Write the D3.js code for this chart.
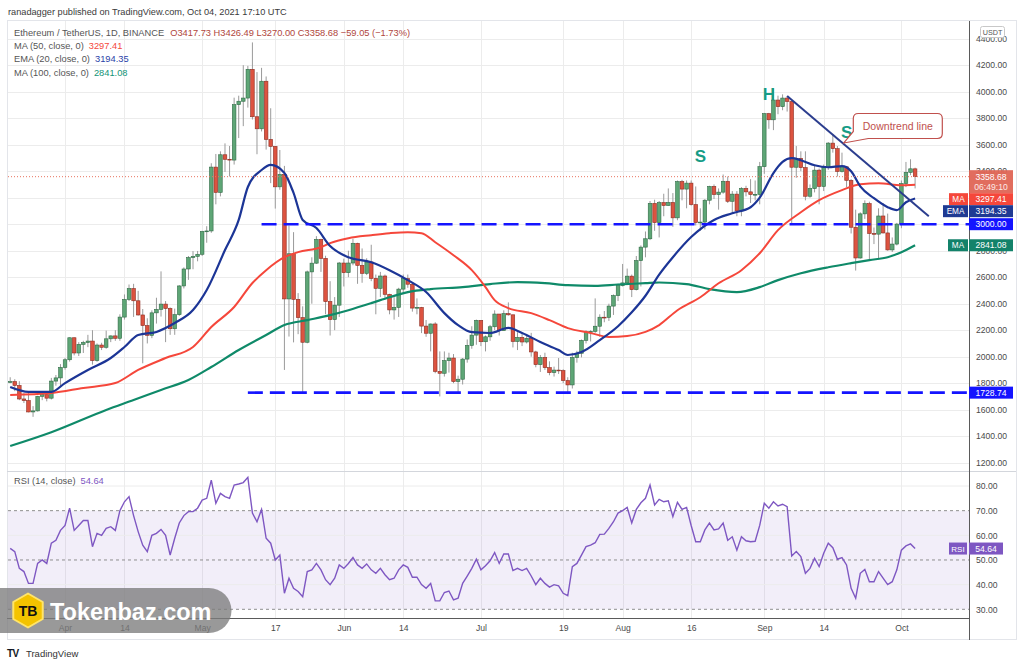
<!DOCTYPE html>
<html><head><meta charset="utf-8"><title>ETH/USDT 1D</title>
<script src="https://cdn.jsdelivr.net/npm/d3@7"></script>
<style>
body{margin:0;background:#fff;}
svg{display:block;font-family:"Liberation Sans",Arial,sans-serif;}
</style></head><body>
<svg id="chart" width="1024" height="667"></svg>
<script>
// ---------------- DATA ----------------
const startDate = "2021-03-20";
const endDate = "2021-10-04";

const openP = [1806,1812,1783,1681,1669,1583,1591,1701,1714,1687,1816,1840,
1919,1977,2143,2028,2093,2107,2118,1971,2088,2071,2135,2157,2139,2299,2432,2514,2422,2315,2235,2161,2331,2357,2397,2364,2211,2317,2534,2662,2748,2757,
2773,2945,2949,3431,3240,3524,3490,3484,3902,3928,3952,4169,3811,3720,4079,3640,3587,3282,3375,2436,2777,2433,2295,2109,2640,2706,2885,2742,2416,2280,2389,
2707,2634,2707,2856,2689,2629,2715,2591,2516,2609,2471,2353,2372,2510,2589,2547,2367,2372,2231,2177,2247,1889,1875,1970,1990,1812,1830,1982,2085,2163,
2274,2113,2150,2226,2322,2197,2325,2316,2115,2146,2111,2139,2036,1940,1994,1917,1880,1899,1895,1820,1787,1994,2026,2123,2188,2191,2230,2298,2297,2382,2461,
2536,2557,2608,2506,2725,2827,2890,3157,3012,3163,3141,3164,3048,3322,3265,3310,3148,3012,3016,3181,3285,3224,3242,3324,3173,3227,3101,3270,3244,3224,3225,
3434,3834,3788,3937,3887,3952,3926,3430,3497,3427,3211,3269,3408,3285,3429,3612,3570,3398,3433,3331,2977,2745,3078,3155,2930,2925,3062,2934,2806,2850,
3001,3307,3391,3417.73];
const highP = [1845,1830,1815,1725,1740,1627,1705,1735,1718,1840,1862,1944,
1991,2145,2145,2110,2120,2165,2200,2100,2105,2197,2160,2200,2320,2470,2545,2550,2497,2360,2290,2350,2445,2644,2420,2372,2363,2540,2674,2760,2797,2798,
2950,2985,3460,3530,3550,3610,3590,3955,3970,4200,4195,4372,4148,4180,4115,3875,3590,3560,3440,2990,2940,2480,2380,2650,2750,2910,2890,2762,2570,2450,2715,
2740,2800,2890,2860,2817,2743,2845,2620,2640,2620,2475,2450,2520,2620,2620,2560,2440,2376,2277,2250,2260,2040,2040,2030,2020,1857,1990,2130,2230,2280,
2275,2160,2240,2350,2322,2350,2410,2318,2185,2180,2160,2180,2045,2013,2030,1965,1925,1990,1905,1845,2030,2045,2130,2200,2200,2440,2320,2345,2400,2470,2550,
2700,2665,2620,2760,2840,2945,3175,3185,3175,3230,3270,3235,3330,3335,3330,3330,3285,3120,3190,3290,3300,3270,3375,3360,3250,3250,3280,3290,3340,3330,3470,
3840,3840,4025,3970,3980,3965,3930,3590,3550,3550,3300,3440,3420,3450,3620,3680,3590,3540,3440,3340,3110,3090,3180,3170,2975,3120,3160,3080,2900,3010,
3330,3470,3490,3426.49];
const lowP = [1800,1740,1672,1650,1580,1546,1586,1672,1663,1677,1781,1770,
1902,1963,2010,2005,2028,2072,1940,1962,2050,2060,2110,2120,2120,2280,2420,2300,2310,1950,2100,2140,2250,2303,2110,2165,2165,2308,2515,2580,2660,2720,
2760,2860,2935,3150,3210,3395,3360,3450,3650,3740,3880,3790,3528,3700,3563,3310,3118,3260,1900,2152,2108,2170,1728,2101,2400,2700,2640,2320,2160,2200,2300,
2530,2600,2690,2550,2558,2616,2570,2320,2450,2440,2320,2280,2300,2480,2520,2340,2320,2178,2150,2040,1875,1700,1850,1880,1800,1720,1790,1955,2060,2090,
2080,2040,2120,2200,2160,2195,2310,2070,2050,2080,2100,2000,1920,1885,1900,1860,1850,1870,1800,1718,1760,1955,1995,2100,2115,2180,2150,2260,2270,2315,2420,
2530,2540,2450,2500,2530,2750,2880,2950,2900,3060,3140,2980,3030,3180,3120,3140,2990,2950,2960,3150,3190,3110,3230,3160,3080,3060,3060,3210,3160,3180,3150,
3380,3720,3710,3830,3860,3850,3000,3350,3400,3180,3200,3240,3150,3250,3410,3540,3360,3390,3280,2930,2650,2740,3040,2730,2850,2740,2930,2800,2790,2840,
2970,3280,3370,3270];
const closeP = [1812,1783,1681,1669,1583,1591,1701,1714,1687,1816,1840,1919,
1977,2143,2028,2093,2107,2118,1971,2088,2071,2135,2157,2139,2299,2432,2514,2422,2315,2235,2161,2331,2357,2397,2364,2211,2317,2534,2662,2748,2757,2773,
2945,2949,3431,3240,3524,3490,3484,3902,3928,3952,4169,3811,3720,4079,3640,3587,3282,3375,2436,2777,2433,2295,2109,2640,2706,2885,2742,2416,2280,2389,2707,
2634,2707,2856,2689,2629,2715,2591,2516,2609,2471,2353,2372,2510,2589,2547,2367,2372,2231,2177,2247,1889,1875,1970,1990,1812,1830,1982,2085,2163,2274,
2113,2150,2226,2322,2197,2325,2316,2115,2146,2111,2139,2036,1940,1994,1917,1880,1899,1895,1820,1787,1994,2026,2123,2188,2191,2230,2298,2297,2382,2461,2536,
2557,2608,2506,2725,2827,2890,3157,3012,3163,3141,3164,3048,3322,3265,3310,3148,3012,3016,3181,3285,3224,3242,3324,3173,3227,3101,3270,3244,3224,3225,3434,
3834,3788,3937,3887,3952,3926,3430,3497,3427,3211,3269,3408,3285,3429,3612,3570,3398,3433,3331,2977,2745,3078,3155,2930,2925,3062,2934,2806,2850,3001,
3307,3391,3418,3358.68];

const rsi14 = [54.7,53.4,46.6,45.3,40.5,40.5,48.6,50,48.6,56.8,58,62,64,71,62,64,66,66,55.4,60.8,
60,62.8,63.5,62,70,73.6,75.7,68,61.5,56,53.4,60,60.8,62.4,60,52,58.8,65,68,69.6,
69.6,71,74.3,75,82.4,73,77,75.7,75,80.4,80.8,81.4,83.5,69,65.5,70.5,58.8,56.8,50,52,
36.5,42.6,38.5,37.2,35.1,45.3,46,48.6,46,42,40,42.6,48,46.6,48.6,51,48,46.6,48.4,46,
44.6,46.6,44,42,42.6,46,48,47,43,43,40,38.5,40.5,33.4,33.4,36.8,37.4,33.8,34.5,40.5,
43.5,46.6,50.3,46,47.7,49.7,53,48.6,52.4,52.4,45.7,46.6,45.7,46.6,43.5,40,42.6,40.5,39,40,
39.5,36.5,35.5,47.3,48.6,52,55.4,56,57,60.4,60.5,62.8,65.5,69,70,71.3,65,70.5,73.2,75,
80.4,72.3,74.6,73.6,74,67.6,73.4,70.5,71.3,64,57.4,57.4,62.2,65,62.2,62.6,65,58,59.4,54,
59.4,57.8,57.4,57.6,64,73,71,73.6,71.9,72.6,71.6,51.6,53.4,51.4,44.6,46.6,50.7,47.3,52.7,56.8,
55,50.3,51,48,38.5,34.5,44.6,46.2,41.2,41.2,45.3,42.6,40,41.2,46,54,55.7,56.5,54.64];

const ema20 = [["2021-03-20",1771],["2021-03-24",1734],["2021-03-29",1734],["2021-04-01",1801],["2021-04-06",1900],
["2021-04-11",1990],["2021-04-14",2073],["2021-04-17",2164],["2021-04-21",2187],["2021-04-25",2254],["2021-04-29",2352],
["2021-05-02",2503],["2021-05-06",2805],["2021-05-09",3032],["2021-05-11",3281],["2021-05-14",3409],["2021-05-16",3447],
["2021-05-19",3387],["2021-05-21",3236],["2021-05-23",3032],["2021-05-26",2971],["2021-05-29",2835],["2021-06-02",2750],
["2021-06-07",2713],["2021-06-11",2653],["2021-06-15",2578],["2021-06-19",2488],["2021-06-23",2329],["2021-06-26",2238],
["2021-06-29",2185],["2021-07-03",2179],["2021-07-07",2217],["2021-07-10",2179],["2021-07-14",2111],["2021-07-18",2050],
["2021-07-20",2013],["2021-07-23",2035],["2021-07-27",2125],["2021-07-31",2230],["2021-08-03",2335],["2021-08-06",2460],
["2021-08-09",2620],["2021-08-12",2751],["2021-08-16",2903],["2021-08-21",3032],["2021-08-25",3083],["2021-08-29",3128],
["2021-08-31",3200],["2021-09-03",3386],["2021-09-05",3470],["2021-09-07",3498],["2021-09-09",3483],["2021-09-12",3445],
["2021-09-15",3430],["2021-09-18",3438],["2021-09-20",3400],["2021-09-22",3285],["2021-09-25",3196],["2021-09-28",3128],
["2021-09-30",3106],["2021-10-02",3166],["2021-10-04",3194.35]];

const ma50 = [["2021-03-20",1711],["2021-03-29",1726],["2021-04-05",1764],["2021-04-12",1801],["2021-04-17",1900],
["2021-04-23",1990],["2021-04-29",2073],["2021-05-03",2224],["2021-05-08",2375],["2021-05-12",2556],["2021-05-15",2653],
["2021-05-19",2751],["2021-05-22",2789],["2021-05-27",2826],["2021-05-29",2857],["2021-06-02",2894],["2021-06-07",2917],
["2021-06-11",2932],["2021-06-15",2940],["2021-06-18",2932],["2021-06-21",2864],["2021-06-25",2766],["2021-06-29",2653],
["2021-07-02",2525],["2021-07-04",2427],["2021-07-07",2367],["2021-07-12",2329],["2021-07-16",2276],["2021-07-20",2216],
["2021-07-25",2179],["2021-07-29",2149],["2021-08-02",2156],["2021-08-06",2187],["2021-08-09",2239],["2021-08-13",2351],
["2021-08-18",2449],["2021-08-22",2554],["2021-08-27",2653],["2021-08-31",2781],["2021-09-04",2955],["2021-09-09",3090],
["2021-09-13",3181],["2021-09-18",3257],["2021-09-22",3302],["2021-09-26",3309],["2021-10-01",3294],["2021-10-04",3297.41]];

const ma100 = [["2021-03-20",1326],["2021-03-29",1430],["2021-04-10",1598],["2021-04-16",1673],["2021-04-22",1749],
["2021-04-28",1824],["2021-05-03",1922],["2021-05-09",2051],["2021-05-15",2164],["2021-05-19",2239],["2021-05-24",2276],
["2021-05-29",2314],["2021-06-02",2351],["2021-06-07",2404],["2021-06-11",2449],["2021-06-15",2487],["2021-06-20",2510],
["2021-06-27",2525],["2021-07-03",2548],["2021-07-09",2563],["2021-07-15",2555],["2021-07-20",2540],["2021-07-26",2535],
["2021-07-31",2545],["2021-08-06",2555],["2021-08-09",2560],["2021-08-15",2548],["2021-08-20",2510],["2021-08-26",2487],
["2021-08-31",2525],["2021-09-04",2578],["2021-09-09",2630],["2021-09-15",2675],["2021-09-20",2706],["2021-09-24",2729],
["2021-09-28",2751],["2021-10-01",2789],["2021-10-04",2841.08]];

const xTickDates = ["2021-04-01","2021-04-14","2021-05-01","2021-05-17","2021-06-01","2021-06-14","2021-07-01",
"2021-07-19","2021-08-01","2021-08-16","2021-09-01","2021-09-14","2021-10-01"];
const xTickLabels = ["Apr","14","May","17","Jun","14","Jul","19","Aug","16","Sep","14","Oct"];
const yTicks = [1200,1400,1600,1800,2000,2200,2400,2600,2800,3000,3200,3400,3600,3800,4000,4200,4400];
const rsiTicks = [30,40,50,60,70,80];
const rsiDashed = [30,50,70];

const levels = [{value:3000, from:"2021-05-14"}, {value:1728.74, from:"2021-05-11"}];
const trendLine = [["2021-09-06",3967],["2021-10-07",3060]];
const patternLabels = [{text:"S", date:"2021-08-18", price:3469},{text:"H", date:"2021-09-02", price:3937},{text:"S", date:"2021-09-19", price:3651}];
const callout = {text:"Downtrend line", date:"2021-09-18", price:3613};

const headerText = "ranadagger published on TradingView.com, Oct 04, 2021 17:10 UTC";
const symbolText = "Ethereum / TetherUS, 1D, BINANCE";
const ohlcText = "O3417.73 H3426.49 L3270.00 C3358.68 −59.05 (−1.73%)";
const legendRows = [["MA (50, close, 0)","3297.41"],["EMA (20, close, 0)","3194.35"],["MA (100, close, 0)","2841.08"]];
const countdown = "06:49:10";

// ---------------- CHART ----------------
const svg = d3.select("#chart");
const L = 8, R = 969, T = 21, MB = 471, RT = 472, RB = 618;
const parse = d3.utcParse("%Y-%m-%d");
const dates = d3.utcDay.range(parse(startDate), d3.utcDay.offset(parse(endDate), 1));
const x = d3.scaleUtc().domain([parse(startDate), parse(endDate)]).range([10.2, 915.1]);
const y = d3.scaleLinear().domain([1200, 4200]).range([462.7, 65.2]);
const yr = d3.scaleLinear().domain([30, 80]).range([609.3, 486]);

const GREEN = "#5ea676", GREEN_B = "#2f6a45", RED = "#dc5340", RED_B = "#8d2c20";
const C_MA50 = "#f5473b", C_EMA = "#1c3596", C_MA100 = "#0f8a69", C_LEVEL = "#1414ff", C_RSI = "#7e57c2";
const GRID = "#ececec", AXTXT = "#4a4a4a";

const defs = svg.append("defs");
defs.append("clipPath").attr("id","clipMain").append("rect").attr("x",L).attr("y",T).attr("width",R-L).attr("height",MB-T);
defs.append("clipPath").attr("id","clipRsi").append("rect").attr("x",L).attr("y",RT).attr("width",R-L).attr("height",RB-RT);

// header
svg.append("text").attr("x",8).attr("y",15).attr("font-size",9.2).attr("fill","#3a3a3a").text(headerText);
svg.append("rect").attr("x",7.5).attr("y",20.5).attr("width",1009).attr("height",619).attr("fill","none").attr("stroke","#e3e5ea");

// grids
const tickDates = xTickDates.map(parse);
svg.append("g").selectAll("line").data(tickDates).join("line")
  .attr("x1",d=>Math.round(x(d))+0.5).attr("x2",d=>Math.round(x(d))+0.5).attr("y1",T).attr("y2",RB)
  .attr("stroke",GRID);
svg.append("g").selectAll("line").data(yTicks).join("line")
  .attr("x1",L).attr("x2",R).attr("y1",d=>Math.round(y(d))+0.5).attr("y2",d=>Math.round(y(d))+0.5).attr("stroke",GRID);

// RSI pane background & grid
svg.append("rect").attr("x",L).attr("y",yr(70)).attr("width",R-L).attr("height",yr(30)-yr(70))
  .attr("fill",C_RSI).attr("fill-opacity",0.1);
svg.append("g").selectAll("line").data(rsiTicks.filter(v=>!rsiDashed.includes(v))).join("line")
  .attr("x1",L).attr("x2",R).attr("y1",d=>yr(d)).attr("y2",d=>yr(d)).attr("stroke",GRID);
svg.append("g").selectAll("line").data(rsiDashed).join("line")
  .attr("x1",L).attr("x2",R).attr("y1",d=>yr(d)).attr("y2",d=>yr(d))
  .attr("stroke","#8f8f8f").attr("stroke-dasharray","3,3");

// separators
svg.append("line").attr("x1",7).attr("x2",1016).attr("y1",471.5).attr("y2",471.5).attr("stroke","#d3d6dc").attr("stroke-width",1.2);
svg.append("line").attr("x1",7).attr("x2",R).attr("y1",618.5).attr("y2",618.5).attr("stroke","#5a5a5a");
svg.append("line").attr("x1",969.5).attr("x2",969.5).attr("y1",21).attr("y2",640).attr("stroke","#5a5a5a");

// main pane
const main = svg.append("g").attr("clip-path","url(#clipMain)");
const candles = dates.map((d,i)=>({d, o:openP[i], h:highP[i], l:lowP[i], c:closeP[i]}));
main.append("g").selectAll("line").data(candles).join("line")
  .attr("x1",d=>x(d.d)).attr("x2",d=>x(d.d)).attr("y1",d=>y(d.h)).attr("y2",d=>y(d.l))
  .attr("stroke","#9a9a9a").attr("stroke-width",1);
main.append("g").selectAll("rect").data(candles).join("rect")
  .attr("x",d=>x(d.d)-1.8).attr("width",3.6)
  .attr("y",d=>y(Math.max(d.o,d.c))).attr("height",d=>Math.max(0.8,Math.abs(y(d.o)-y(d.c))))
  .attr("fill",d=>d.c>=d.o?GREEN:RED).attr("stroke",d=>d.c>=d.o?GREEN_B:RED_B).attr("stroke-width",0.6);

const maLine = d3.line().x(p=>x(parse(p[0]))).y(p=>y(p[1])).curve(d3.curveMonotoneX);
main.append("path").attr("d",maLine(ma100)).attr("fill","none").attr("stroke",C_MA100).attr("stroke-width",2.2);
main.append("path").attr("d",maLine(ma50)).attr("fill","none").attr("stroke",C_MA50).attr("stroke-width",2);
main.append("path").attr("d",maLine(ema20)).attr("fill","none").attr("stroke",C_EMA).attr("stroke-width",2.2);

// horizontal levels
main.append("g").selectAll("line").data(levels).join("line")
  .attr("x1",d=>x(parse(d.from))).attr("x2",R).attr("y1",d=>y(d.value)).attr("y2",d=>y(d.value))
  .attr("stroke",C_LEVEL).attr("stroke-width",2.6).attr("stroke-dasharray","15,7");

// current price dotted line
const lastClose = closeP[closeP.length-1];
main.append("line").attr("x1",L).attr("x2",R).attr("y1",y(lastClose)).attr("y2",y(lastClose))
  .attr("stroke","#e8735f").attr("stroke-dasharray","1,2");

// downtrend line
main.append("path").attr("d",d3.line().x(p=>x(parse(p[0]))).y(p=>y(p[1]))(trendLine))
  .attr("fill","none").attr("stroke","#2b3d8e").attr("stroke-width",2);

// pattern labels
svg.append("g").selectAll("text").data(patternLabels).join("text")
  .attr("x",d=>x(parse(d.date))).attr("y",d=>y(d.price)).attr("text-anchor","middle")
  .attr("font-size",17).attr("font-weight","bold").attr("fill","#169c86").text(d=>d.text);

// callout
{
  const tx = x(parse(callout.date)) + 0.4*4.57, ty = y(callout.price);
  const x0 = tx + 9.5, y0 = ty - 29.5, w = 89, h = 25, r = 5;
  const p = `M${x0+r},${y0} H${x0+w-r} Q${x0+w},${y0} ${x0+w},${y0+r} V${y0+h-r} Q${x0+w},${y0+h} ${x0+w-r},${y0+h} H${x0+15} L${tx},${ty} L${x0},${y0+h-7} V${y0+r} Q${x0},${y0} ${x0+r},${y0} Z`;
  svg.append("path").attr("d",p).attr("fill","#fff").attr("stroke","#c0504d").attr("stroke-width",1.2);
  svg.append("text").attr("x",x0+w/2).attr("y",y0+h/2+4).attr("text-anchor","middle")
    .attr("font-size",10.5).attr("fill","#c0504d").text(callout.text);
}

// RSI line
const rsiG = svg.append("g").attr("clip-path","url(#clipRsi)");
rsiG.append("path").attr("d",d3.line().x((v,i)=>x(dates[i])).y(v=>yr(v))(rsi14))
  .attr("fill","none").attr("stroke",C_RSI).attr("stroke-width",1.4);

// axes
const yAx = svg.append("g").attr("transform","translate(969,0)")
  .call(d3.axisRight(y).tickValues(yTicks).tickFormat(d3.format(".2f")).tickSize(0).tickPadding(7));
yAx.select(".domain").remove();
yAx.selectAll("text").attr("font-size",8.6).attr("fill",AXTXT).attr("font-family","Liberation Sans, Arial, sans-serif");
const rAx = svg.append("g").attr("transform","translate(969,0)")
  .call(d3.axisRight(yr).tickValues(rsiTicks).tickFormat(d3.format(".2f")).tickSize(0).tickPadding(7));
rAx.select(".domain").remove();
rAx.selectAll("text").attr("font-size",8.6).attr("fill",AXTXT).attr("font-family","Liberation Sans, Arial, sans-serif");
const xAx = svg.append("g").attr("transform","translate(0,618)")
  .call(d3.axisBottom(x).tickValues(tickDates).tickFormat((d,i)=>xTickLabels[i]).tickSize(0).tickPadding(7));
xAx.select(".domain").remove();
xAx.selectAll("text").attr("font-size",8.6).attr("fill",AXTXT).attr("font-family","Liberation Sans, Arial, sans-serif");

// USDT box
svg.append("rect").attr("x",980.5).attr("y",26.5).attr("width",24).attr("height",11).attr("rx",2)
  .attr("fill","#fff").attr("stroke","#c8c8c8");
svg.append("text").attr("x",992.5).attr("y",34.5).attr("text-anchor","middle").attr("font-size",7.2).attr("fill","#555").text("USDT");

// right-side value labels
const priceTop = y(lastClose) - 6.5;
svg.append("rect").attr("x",969).attr("y",priceTop).attr("width",44).attr("height",23).attr("fill","#df6555").attr("fill-opacity",0.95);
svg.append("text").attr("x",991).attr("y",priceTop+9.5).attr("text-anchor","middle").attr("font-size",8.6).attr("fill","#fff").text(d3.format(".2f")(lastClose));
svg.append("text").attr("x",991).attr("y",priceTop+20).attr("text-anchor","middle").attr("font-size",8.6).attr("fill","#fde9e6").text(countdown);

const tags = [
  {v:3297.41, tag:"MA", color:C_MA50, tagW:19},
  {v:3194.35, tag:"EMA", color:"#1f3a93", tagW:25},
  {v:3000, tag:null, color:C_LEVEL},
  {v:2841.08, tag:"MA", color:"#13826a", tagW:20},
  {v:1728.74, tag:null, color:C_LEVEL}
];
let prevBottom = priceTop + 23;
tags.forEach(t=>{
  let top = y(t.v) - 6;
  if (top < prevBottom) top = prevBottom;
  prevBottom = top + 12;
  svg.append("rect").attr("x",969).attr("y",top).attr("width",44).attr("height",12).attr("fill",t.color);
  svg.append("text").attr("x",991).attr("y",top+9).attr("text-anchor","middle").attr("font-size",8.6).attr("fill","#fff").text(d3.format(".2f")(t.v));
  if (t.tag) {
    svg.append("rect").attr("x",968-t.tagW).attr("y",top).attr("width",t.tagW).attr("height",12).attr("fill",t.color);
    svg.append("text").attr("x",968-t.tagW/2).attr("y",top+9).attr("text-anchor","middle").attr("font-size",8.2).attr("fill","#fff").text(t.tag);
  }
});
{
  const lastRsi = rsi14[rsi14.length-1];
  const top = yr(lastRsi) - 6;
  svg.append("rect").attr("x",969).attr("y",top).attr("width",34).attr("height",12).attr("fill",C_RSI);
  svg.append("text").attr("x",986).attr("y",top+9).attr("text-anchor","middle").attr("font-size",8.6).attr("fill","#fff").text(d3.format(".2f")(lastRsi));
  svg.append("rect").attr("x",949).attr("y",top).attr("width",18).attr("height",12).attr("fill",C_RSI);
  svg.append("text").attr("x",958).attr("y",top+9).attr("text-anchor","middle").attr("font-size",8).attr("fill","#fff").text("RSI");
}

// legends
const lg = svg.append("g").attr("font-size",9.3);
const l1 = lg.append("text").attr("x",14).attr("y",35.5).attr("fill","#555");
l1.append("tspan").text(symbolText);
l1.append("tspan").attr("dx",6).attr("fill","#b0463c").text(ohlcText);
const legColors = [C_MA50, "#2a3fa8", "#129477"];
legendRows.forEach((r,i)=>{
  const t = lg.append("text").attr("x",14).attr("y",49 + i*13.3).attr("fill","#555");
  t.append("tspan").text(r[0]);
  t.append("tspan").attr("dx",5).attr("fill",legColors[i]).text(r[1]);
});
const rl = svg.append("text").attr("x",14).attr("y",484).attr("font-size",9.3).attr("fill","#555");
rl.append("tspan").text("RSI (14, close)");
rl.append("tspan").attr("dx",5).attr("fill",C_RSI).text(d3.format(".2f")(rsi14[rsi14.length-1]));

// watermark
{
  const g = svg.append("g");
  g.append("path").attr("d","M0,588 H209 A22.5,22.5 0 0 1 209,633 H0 Z").attr("fill","#7c7c7c").attr("fill-opacity",0.78);
  const cx = 28, cy = 610.5, rr = 17;
  const hex = d3.range(6).map(k=>{const a = (Math.PI/180)*(60*k-90); return [cx+rr*Math.cos(a), cy+rr*Math.sin(a)];});
  g.append("polygon").attr("points",hex.map(p=>p.join(",")).join(" ")).attr("fill","#f4c300").attr("stroke","#ffe46a").attr("stroke-width",2).attr("stroke-linejoin","round");
  g.append("text").attr("x",cx).attr("y",cy+5).attr("text-anchor","middle").attr("font-size",14).attr("font-weight","bold").attr("fill","#111").text("TB");
  g.append("text").attr("x",50).attr("y",620).attr("font-size",23.5).attr("font-weight","bold").attr("fill","#fff").text("Tokenbaz.com");
}

// footer
svg.append("text").attr("x",7).attr("y",657).attr("font-size",10).attr("font-weight","bold").attr("fill","#131722").attr("letter-spacing",-0.5).text("TV");
svg.append("text").attr("x",26).attr("y",657).attr("font-size",9.5).attr("fill","#333").text("TradingView");
</script>
</body></html>
